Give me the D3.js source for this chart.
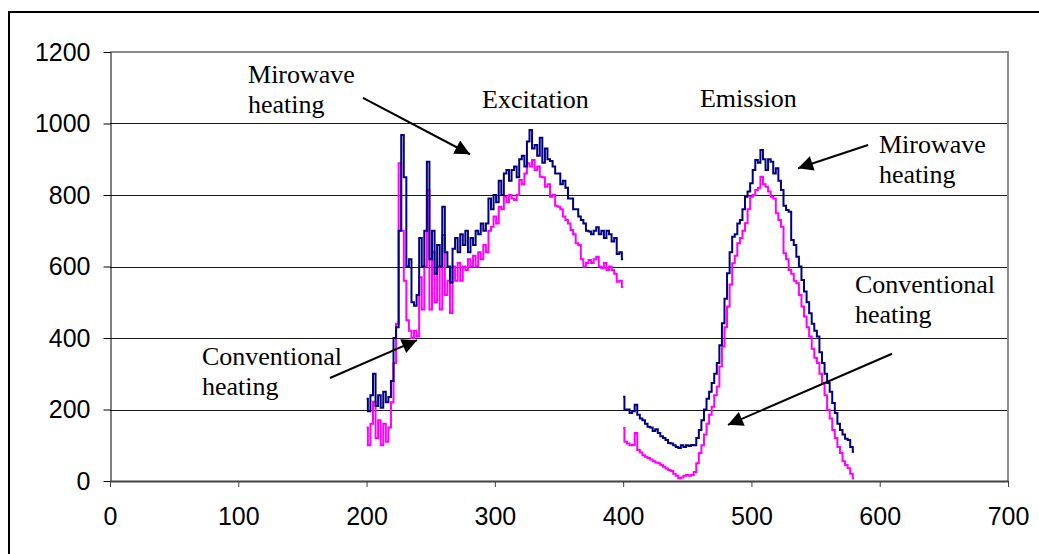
<!DOCTYPE html>
<html lang="en">
<head>
<meta charset="utf-8">
<title>Excitation and emission spectra</title>
<script src="https://cdn.jsdelivr.net/npm/d3@7"></script>
<style>
  body { margin: 0; background: #fff; }
  .tick text { font-family: "Liberation Sans", Arial, sans-serif; font-size: 25px; fill: #000; }
  .note { font-family: "Liberation Serif", "Times New Roman", serif; font-size: 26px; fill: #000; }
</style>
</head>
<body>
<div id="chart"></div>
<script>
// excitation spectra, 200..400 nm, every 2 nm
const exStart = 200, exStep = 2;
const exMicrowave = [230,195,240,300,210,240,205,250,220,235,280,400,430,700,968,850,600,620,500,490,
  520,680,600,700,893,620,700,580,660,600,767,640,600,555,650,680,640,690,660,700,
  640,680,660,700,690,720,700,720,790,760,800,780,840,800,860,870,840,870,880,850,
  900,910,880,950,982,930,940,910,960,890,930,900,895,880,860,860,830,840,820,790,
  790,760,760,740,730,720,700,698,690,700,710,690,700,680,700,690,670,680,635,640,620];
const exConventional = [150,100,160,222,120,170,100,160,110,150,220,330,440,889,700,560,450,420,400,420,
  404,570,480,600,814,480,640,500,600,480,688,520,560,470,600,560,610,560,600,590,
  620,600,630,600,640,620,660,640,700,711,740,720,767,760,795,780,800,790,786,800,
  842,830,860,889,880,898,870,880,851,850,823,830,795,800,770,767,760,740,730,720,
  702,690,665,660,620,599,610,618,610,620,627,600,595,610,590,600,590,580,557,560,543];

// emission spectra, 400..580 nm, every 2 nm
const emStart = 400, emStep = 2;
const emMicrowave = [236,199,200,190,195,213,185,175,170,160,152,150,140,145,134,125,120,115,106,105,
  100,95,92,100,95,100,98,101,100,120,143,170,200,230,250,274,300,330,380,441,
  510,581,640,683,690,720,730,760,795,810,833,870,898,890,926,900,870,900,893,860,
  875,840,814,770,758,753,674,660,627,600,562,530,500,469,440,420,404,360,330,300,
  274,250,218,190,160,143,130,118,115,95,82];
const emConventional = [148,110,105,100,101,134,87,80,72,68,64,60,55,52,50,45,40,35,31,28,
  20,15,8,10,15,17,15,17,25,50,78,100,130,160,185,208,240,264,320,376,
  430,488,550,609,630,665,680,700,721,760,795,800,814,820,851,830,823,810,795,790,
  749,730,711,637,620,590,580,560,553,520,488,460,430,404,370,345,330,300,274,240,
  199,175,143,120,95,78,55,45,36,20,8];

const xTicks = [0,100,200,300,400,500,600,700];
const yTicks = [0,200,400,600,800,1000,1200];

// annotation texts and arrows, in data units
const notes = [
  {lines: ["Mirowave", "heating"], x: 107.6, y: 1113},
  {lines: ["Excitation"], x: 290, y: 1043},
  {lines: ["Emission"], x: 459.9, y: 1046},
  {lines: ["Mirowave", "heating"], x: 599.4, y: 917},
  {lines: ["Conventional", "heating"], x: 580.7, y: 526},
  {lines: ["Conventional", "heating"], x: 71.7, y: 324}
];
const arrows = [
  {x1: 197.2, y1: 1072, x2: 280.6, y2: 914},
  {x1: 590.9, y1: 940, x2: 536.3, y2: 875},
  {x1: 609.6, y1: 356, x2: 481.7, y2: 157},
  {x1: 171.5, y1: 288, x2: 239.3, y2: 394}
];

const W = 1039, H = 554;
const margin = {left: 110, top: 52, right: 31, bottom: 73};

const svg = d3.select("#chart").append("svg")
  .attr("width", W).attr("height", H);

svg.append("defs").append("marker")
  .attr("id", "head")
  .attr("viewBox", "0 0 10 10")
  .attr("refX", 10).attr("refY", 5)
  .attr("markerWidth", 18).attr("markerHeight", 15)
  .attr("markerUnits", "userSpaceOnUse")
  .attr("orient", "auto")
  .append("path").attr("d", "M0,0 L10,5 L0,10 Z").attr("fill", "#000");

// outer frame (runs off the page to the right and bottom)
svg.append("rect")
  .attr("x", 9).attr("y", 12).attr("width", 1100).attr("height", 700)
  .attr("fill", "none").attr("stroke", "#000").attr("stroke-width", 2);

const x = d3.scaleLinear().domain([0, 700]).range([margin.left, W - margin.right]);
const y = d3.scaleLinear().domain([0, 1200]).range([H - margin.bottom, margin.top]);

// gridlines
svg.append("g")
  .selectAll("line")
  .data(yTicks.filter(d => d > 0 && d < 1200))
  .join("line")
  .attr("x1", x(0)).attr("x2", x(700))
  .attr("y1", d => Math.round(y(d)) + 0.5).attr("y2", d => Math.round(y(d)) + 0.5)
  .attr("stroke", "#1a1a1a").attr("stroke-width", 1);

// plot area border (top and right, grey)
svg.append("path")
  .attr("d", `M${x(0)},${y(1200)} H${x(700)} V${y(0)}`)
  .attr("fill", "none").attr("stroke", "#8c8c8c").attr("stroke-width", 2);

// y axis
const yAxis = svg.append("g")
  .attr("transform", `translate(${x(0) + 0.5},0)`)
  .call(d3.axisLeft(y).tickValues(yTicks).tickFormat(d3.format("d"))
    .tickSize(7).tickPadding(13).tickSizeOuter(0));
yAxis.select(".domain").attr("stroke", "#000");
yAxis.selectAll(".tick line").attr("stroke", "#000");

// x axis
const xAxis = svg.append("g")
  .attr("transform", `translate(0,${y(0)})`)
  .call(d3.axisBottom(x).tickValues(xTicks).tickFormat(d3.format("d"))
    .tickSize(6).tickPadding(20).tickSizeOuter(0));
xAxis.select(".domain").attr("stroke", "#404040").attr("stroke-width", 2);
xAxis.selectAll(".tick line").attr("stroke", "#404040");

// series
const line = d3.line().curve(d3.curveStep).x(d => x(d[0])).y(d => y(d[1]));
function pts(vals, start, step) { return vals.map((v, i) => [start + i * step, v]); }

const series = [
  {data: pts(exConventional, exStart, exStep), color: "#ff00ff"},
  {data: pts(emConventional, emStart, emStep), color: "#ff00ff"},
  {data: pts(exMicrowave, exStart, exStep), color: "#000080"},
  {data: pts(emMicrowave, emStart, emStep), color: "#000080"}
];
svg.append("g").selectAll("path")
  .data(series)
  .join("path")
  .attr("d", d => line(d.data))
  .attr("fill", "none")
  .attr("stroke", d => d.color)
  .attr("stroke-width", 2)
  .attr("stroke-linejoin", "miter");

// arrows
svg.append("g").selectAll("line")
  .data(arrows)
  .join("line")
  .attr("x1", d => x(d.x1)).attr("y1", d => y(d.y1))
  .attr("x2", d => x(d.x2)).attr("y2", d => y(d.y2))
  .attr("stroke", "#000").attr("stroke-width", 2)
  .attr("marker-end", "url(#head)");

// labels
const txt = svg.append("g").selectAll("text")
  .data(notes)
  .join("text")
  .attr("class", "note")
  .attr("x", d => x(d.x)).attr("y", d => y(d.y));
txt.selectAll("tspan")
  .data(d => d.lines.map(l => ({l, x: d.x})))
  .join("tspan")
  .attr("x", d => x(d.x))
  .attr("dy", (d, i) => i === 0 ? 0 : 30)
  .text(d => d.l);
</script>
</body>
</html>
